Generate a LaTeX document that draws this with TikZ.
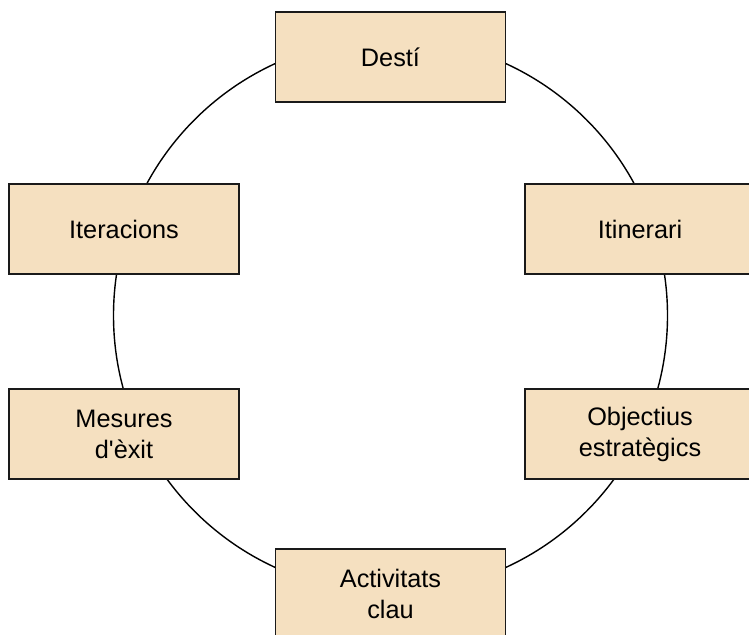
\documentclass[tikz,border=0pt]{standalone}
\usepackage{fontspec}
\setmainfont{Liberation Sans}
\definecolor{boxfill}{HTML}{F5E0C0}
\definecolor{boxline}{HTML}{1A1A1A}
\begin{document}
\begin{tikzpicture}[x=1pt,y=-1pt,
  stage/.style={draw=boxline, fill=boxfill, line width=1.5pt,
    minimum width=230pt, minimum height=90pt, inner sep=0pt,
    align=center, font=\fontsize{25.3}{31}\selectfont},
  ring/.style={draw=black, line width=1.4pt}]
  \useasboundingbox (0,0) rectangle (749,634);
  % the cycle behind the stages
  \coordinate (c) at (390.5,315.5);
  \draw[ring] (c) circle[radius=277pt];
  % stages of the cycle
  \node[stage] (desti) at (390.5,57)  {Destí};
  \node[stage] (itin)  at (640,229)   {Itinerari};
  \node[stage] (obj)   at (640,434)   {Objectius\\estratègics};
  \node[stage] (act)   at (390.5,594) {Activitats\\clau};
  \node[stage] (mes)   at (124,434)   {Mesures\\d\textquotesingle èxit};
  \node[stage] (iter)  at (124,229)   {Iteracions};
\end{tikzpicture}
\end{document}
